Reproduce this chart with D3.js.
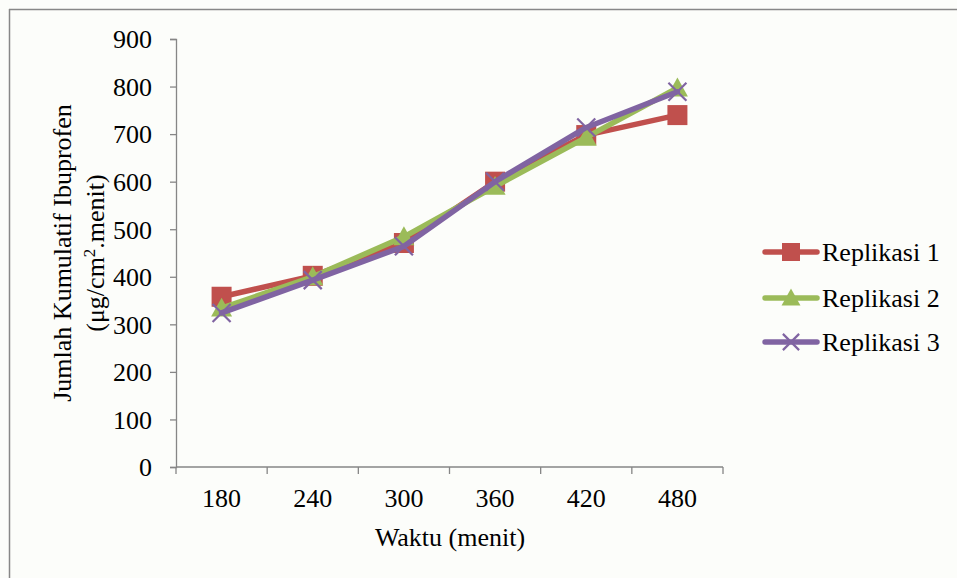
<!DOCTYPE html>
<html lang="en">
<head>
<meta charset="utf-8">
<script src="https://d3js.org/d3.v7.min.js"></script>
<style>
body { margin: 0; background: #fcfdfa; }
text { font-family: "Liberation Serif", "Times New Roman", serif; fill: #000; }
.axis path, .axis line { stroke: #868686; stroke-width: 1.3px; }
</style>
</head>
<body>
<svg width="957" height="578"></svg>
<script>
// chart data
var waktu = ["180", "240", "300", "360", "420", "480"];
var replikasi1 = [358, 402, 471, 600, 698, 740];
var replikasi2 = [334, 400, 484, 590, 693, 797];
var replikasi3 = [324, 393, 464, 600, 714, 789];
var seriesNames = ["Replikasi 1", "Replikasi 2", "Replikasi 3"];
var yTicks = [0, 100, 200, 300, 400, 500, 600, 700, 800, 900];

var svg = d3.select("svg"),
    width = +svg.attr("width"),
    height = +svg.attr("height");

// outer frame (top + left only visible)
svg.append("line").attr("x1", 9).attr("y1", 9.5).attr("x2", width).attr("y2", 9.5)
  .attr("stroke", "#878787").attr("stroke-width", 1.5);
svg.append("line").attr("x1", 9.5).attr("y1", 9).attr("x2", 9.5).attr("y2", height)
  .attr("stroke", "#878787").attr("stroke-width", 1.5);

var plotLeft = 176, plotRight = 723, plotTop = 39, plotBottom = 467;

var x = d3.scaleBand().domain(waktu).range([plotLeft, plotRight]);
var y = d3.scaleLinear().domain([0, 900]).range([plotBottom, plotTop]);

var colors = ["#c0504d", "#9bbb59", "#8064a2"];
var allSeries = [replikasi1, replikasi2, replikasi3];

// y axis
var yAxis = svg.append("g").attr("class", "axis")
  .attr("transform", "translate(" + plotLeft + ",0)")
  .call(d3.axisLeft(y).tickValues(yTicks).tickSize(6).tickSizeOuter(6).tickPadding(18));
yAxis.selectAll("text").style("font-size", "26px").attr("dy", "0.34em");

// x axis with ticks between categories
var xAxis = svg.append("g").attr("class", "axis")
  .attr("transform", "translate(0," + plotBottom + ")");
xAxis.append("line").attr("x1", plotLeft).attr("x2", plotRight).attr("y1", 0).attr("y2", 0);
var bounds = waktu.map(function(d) { return x(d); }).concat([plotRight]);
xAxis.selectAll(".tk").data(bounds).enter().append("line")
  .attr("x1", function(d) { return d; }).attr("x2", function(d) { return d; })
  .attr("y1", 0).attr("y2", 7);
xAxis.selectAll(".lbl").data(waktu).enter().append("text")
  .attr("x", function(d) { return x(d) + x.bandwidth() / 2; })
  .attr("y", 40)
  .attr("text-anchor", "middle")
  .style("font-size", "26px")
  .text(function(d) { return d; });

// axis titles
svg.append("text")
  .attr("x", 450).attr("y", 546)
  .attr("text-anchor", "middle")
  .style("font-size", "26px")
  .text("Waktu (menit)");

var yt = svg.append("text")
  .attr("transform", "translate(71,253) rotate(-90)")
  .attr("text-anchor", "middle")
  .style("font-size", "26px");
yt.append("tspan").attr("x", 0).attr("y", 0).text("Jumlah Kumulatif Ibuprofen");
yt.append("tspan").attr("x", 0).attr("dy", 33).text("(μg/cm");
yt.append("tspan").attr("dy", -9).style("font-size", "17px").text("2");
yt.append("tspan").attr("dy", 9).text(".menit)");

var line = d3.line()
  .x(function(d, i) { return x(waktu[i]) + x.bandwidth() / 2; })
  .y(function(d) { return y(d); });

function drawMarker(g, k, cx, cy, scale) {
  var s = scale || 1;
  if (k === 0) {
    g.append("rect").attr("x", cx - 10 * s).attr("y", cy - 10 * s)
      .attr("width", 20 * s).attr("height", 20 * s).attr("fill", colors[0]);
  } else if (k === 1) {
    var h = 10.5 * s;
    g.append("path")
      .attr("d", "M" + cx + "," + (cy - h) + "L" + (cx + h) + "," + (cy + h * 0.8) + "L" + (cx - h) + "," + (cy + h * 0.8) + "Z")
      .attr("fill", colors[1]);
  } else {
    var r = 9 * s;
    g.append("path")
      .attr("d", "M" + (cx - r) + "," + (cy - r) + "L" + (cx + r) + "," + (cy + r) + "M" + (cx + r) + "," + (cy - r) + "L" + (cx - r) + "," + (cy + r))
      .attr("stroke", colors[2]).attr("stroke-width", 2.2).attr("fill", "none");
  }
}

allSeries.forEach(function(vals, k) {
  var g = svg.append("g");
  g.append("path").datum(vals)
    .attr("d", line)
    .attr("fill", "none")
    .attr("stroke", colors[k])
    .attr("stroke-width", 5.5)
    .attr("stroke-linejoin", "round")
    .attr("stroke-linecap", "round");
  vals.forEach(function(v, i) {
    drawMarker(g, k, x(waktu[i]) + x.bandwidth() / 2, y(v));
  });
});

// legend
var legY = [252, 298, 342];
seriesNames.forEach(function(name, k) {
  var g = svg.append("g");
  g.append("line").attr("x1", 765).attr("x2", 817)
    .attr("y1", legY[k]).attr("y2", legY[k])
    .attr("stroke", colors[k]).attr("stroke-width", 5.5)
    .attr("stroke-linecap", "round");
  drawMarker(g, k, 791, legY[k], 0.9);
  g.append("text").attr("x", 822).attr("y", legY[k] + 9)
    .style("font-size", "26px").text(name);
});
</script>
</body>
</html>
